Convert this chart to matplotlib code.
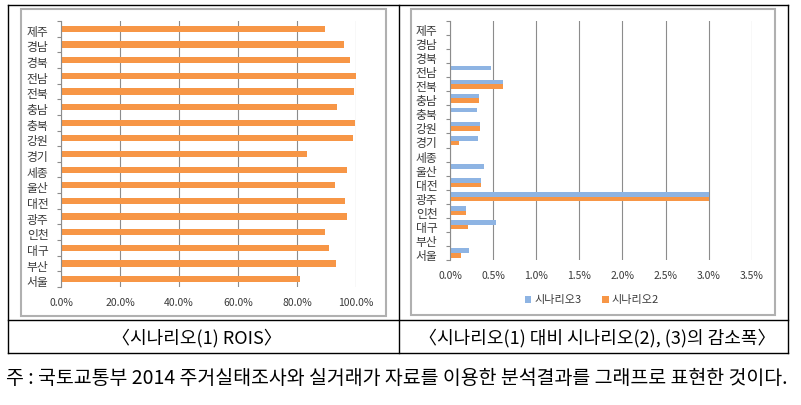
import numpy as np
import matplotlib
matplotlib.use("Agg")
import matplotlib.pyplot as plt
from matplotlib.patches import Rectangle
from matplotlib.lines import Line2D
from matplotlib.ticker import FuncFormatter
from matplotlib.transforms import ScaledTranslation

plt.rcParams["font.family"] = ["Noto Sans CJK KR", "DejaVu Sans"]

# regions, bottom to top (Excel bar chart order)
regions = ["서울", "부산", "대구", "인천", "광주", "대전", "울산", "세종", "경기",
           "강원", "충북", "충남", "전북", "전남", "경북", "경남", "제주"]

# scenario (1) ROIS, %
rois = [81.0, 93.2, 90.8, 89.5, 97.1, 96.3, 92.9, 96.8, 83.5,
        99.1, 99.7, 93.6, 99.3, 100.0, 98.0, 95.9, 89.5]

# reduction vs scenario (1), %
scen3 = [0.22, 0.0, 0.53, 0.19, 3.01, 0.36, 0.39, 0.0, 0.32,
         0.35, 0.31, 0.34, 0.62, 0.48, 0.0, 0.0, 0.0]
scen2 = [0.13, 0.0, 0.21, 0.19, 3.01, 0.36, 0.0, 0.0, 0.11,
         0.35, 0.0, 0.34, 0.62, 0.0, 0.0, 0.0, 0.0]

left_ticks = [0, 20, 40, 60, 80, 100]
right_ticks = [0, 0.5, 1.0, 1.5, 2.0, 2.5, 3.0, 3.5]

caption_left = "〈시나리오(1) ROIS〉"
caption_right = "〈시나리오(1) 대비 시나리오(2), (3)의 감소폭〉"
note = "주 : 국토교통부 2014 주거실태조사와 실거래가 자료를 이용한 분석결과를 그래프로 표현한 것이다."

ORANGE = "#F79646"
BLUE = "#8EB4E3"
GRID = "#8C8C8C"
TXT = "#3A3A3A"

W, H = 801, 405
fig = plt.figure(figsize=(W / 100, H / 100), dpi=100)


def fx(px):
    return px / W


def fy(py):
    return 1 - py / H


def style_axis(ax, ticks):
    y = np.arange(len(regions))
    ax.set_ylim(-0.5, len(regions) - 0.5)
    ax.set_yticks(y)
    ax.set_yticklabels(regions, fontsize=8.5, color=TXT)
    ax.set_yticks(np.arange(-0.5, len(regions), 1), minor=True)
    ax.tick_params(axis="y", which="major", length=0, pad=9)
    ax.tick_params(axis="y", which="minor", length=3, color=GRID, width=0.8)
    # Korean labels sit a little below the category centre in the original
    shift = ScaledTranslation(0, -2 / 100, fig.dpi_scale_trans)
    for lab in ax.get_yticklabels():
        lab.set_transform(lab.get_transform() + shift)
    ax.set_xticks(ticks)
    ax.tick_params(axis="x", length=0, labelsize=7.5, labelcolor=TXT, pad=8)
    ax.grid(axis="x", color=GRID, lw=0.8)
    ax.set_axisbelow(True)
    for s in ("top", "right", "bottom"):
        ax.spines[s].set_visible(False)
    ax.spines["left"].set_color(GRID)
    ax.spines["left"].set_linewidth(0.8)


# left chart
ax1 = fig.add_axes([fx(61), fy(287), fx(356 - 61), (287 - 21) / H])
ax1.barh(np.arange(len(regions)), rois, height=0.4, color=ORANGE)
ax1.set_xlim(0, 100)
style_axis(ax1, left_ticks)
ax1.xaxis.set_major_formatter(FuncFormatter(lambda v, p: f"{v:.1f}%"))

# right chart
ax2 = fig.add_axes([fx(450), fy(260), fx(751.7 - 450), (260 - 21) / H])
yy = np.arange(len(regions))
ax2.barh(yy + 0.165, scen3, height=0.33, color=BLUE, label="시나리오3")
ax2.barh(yy - 0.165, scen2, height=0.33, color=ORANGE, label="시나리오2")
ax2.set_xlim(0, 3.5)
style_axis(ax2, right_ticks)
ax2.xaxis.set_major_formatter(FuncFormatter(lambda v, p: f"{v:.1f}%"))
fig.legend(loc="center", bbox_to_anchor=(fx(592), fy(300)), ncol=2, frameon=False,
           fontsize=8, handlelength=0.6, handleheight=0.6, handletextpad=0.3,
           columnspacing=1.8, labelcolor=TXT)

# chart area borders
for x0, y0, x1, y1 in [(21, 9, 386, 316), (411, 9, 775, 315)]:
    fig.add_artist(Rectangle((fx(x0), fy(y1)), fx(x1 - x0), (y1 - y0) / H,
                             transform=fig.transFigure, fill=False,
                             edgecolor="#B0B0B0", lw=1.5))

# table lines
for xs, ys in [((8, 788), (5, 5)), ((8, 788), (320, 320)), ((8, 788), (353, 353)),
               ((8, 8), (5, 353)), ((399, 399), (5, 353)), ((788, 788), (5, 353))]:
    fig.add_artist(Line2D([fx(v) for v in xs], [fy(v) for v in ys],
                          transform=fig.transFigure, color="black", lw=1.0))

fig.text(fx(197), fy(338), caption_left, ha="center", va="center", fontsize=13)
fig.text(fx(597), fy(338), caption_right, ha="center", va="center", fontsize=13)
fig.text(fx(397), fy(378), note, ha="center", va="center", fontsize=14)

fig.savefig("out.png", dpi=100)
